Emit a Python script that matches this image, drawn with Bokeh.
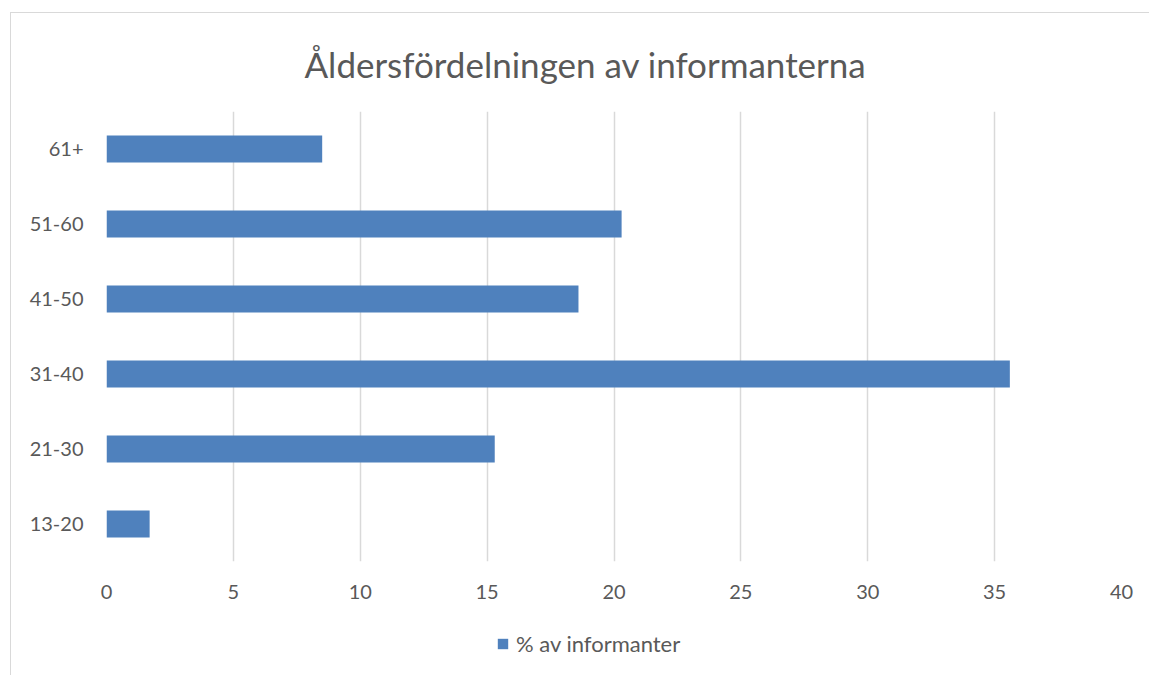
from bokeh.plotting import figure
from bokeh.layouts import column
from bokeh.models import FixedTicker, Range1d, Legend, LegendItem, ColumnDataSource
from bokeh.embed import file_html
from bokeh.resources import INLINE

categories = ["13-20", "21-30", "31-40", "41-50", "51-60", "61+"]
values = [1.7, 15.3, 35.6, 18.6, 20.3, 8.5]
x_ticks = [0, 5, 10, 15, 20, 25, 30, 35, 40]
series_name = "% av informanter"
title_text = "Åldersfördelningen av informanterna"

FONT = "Lato"
TXT = "#595959"
GRID = "#d9d9d9"
BAR = "#4f81bd"

src = ColumnDataSource(dict(cat=categories, val=values))

p = figure(
    frame_width=1015, frame_height=450,
    y_range=categories,
    x_range=Range1d(0, 40),
    output_backend="svg",
    toolbar_location=None,
    min_border_left=95, min_border_right=28,
    min_border_top=98, min_border_bottom=50,
)

r = p.hbar(y="cat", right="val", left=0, height=0.36, source=src,
           fill_color=BAR, line_color=None)

p.outline_line_color = None
p.background_fill_color = "white"
p.border_fill_color = "white"

p.title.text = title_text
p.title.text_font = FONT
p.title.text_font_size = "35px"
p.title.text_font_style = "normal"
p.title.text_color = TXT
p.title.align = "left"
p.title.offset = 198
p.title.standoff = 54

# x axis
p.xaxis.ticker = FixedTicker(ticks=x_ticks)
p.xaxis.axis_line_color = None
p.xaxis.major_tick_line_color = None
p.xaxis.minor_tick_line_color = None
p.xaxis.major_tick_out = 0
p.xaxis.major_tick_in = 0
p.xaxis.major_label_standoff = 23
p.xaxis.major_label_text_font = FONT
p.xaxis.major_label_text_font_size = "20px"
p.xaxis.major_label_text_color = TXT

# y axis
p.yaxis.axis_line_color = None
p.yaxis.major_tick_line_color = None
p.yaxis.major_tick_out = 0
p.yaxis.major_tick_in = 0
p.yaxis.major_label_standoff = 23
p.yaxis.major_label_text_font = FONT
p.yaxis.major_label_text_font_size = "20px"
p.yaxis.major_label_text_color = TXT

p.xgrid.grid_line_color = GRID
p.xgrid.grid_line_width = 1.5
p.ygrid.grid_line_color = None

# legend strip below the chart
p2 = figure(
    width=1139, height=64,
    y_range=categories,
    x_range=Range1d(0, 40),
    output_backend="svg",
    toolbar_location=None,
    min_border=0,
)
p2.axis.visible = False
p2.grid.visible = False
p2.outline_line_color = None
p2.background_fill_color = "white"
p2.border_fill_color = "white"
r2 = p2.hbar(y="cat", right="val", left=0, height=0.36, source=src,
             fill_color=BAR, line_color=None, visible=False)

legend = Legend(items=[LegendItem(label=series_name, renderers=[r2])],
                location=(390, 18), orientation="horizontal")
legend.glyph_width = 13
legend.glyph_height = 13
legend.label_standoff = 7
legend.padding = 0
legend.margin = 0
legend.spacing = 0
legend.border_line_color = None
legend.background_fill_alpha = 0
legend.label_text_font = FONT
legend.label_text_font_size = "22px"
legend.label_text_color = TXT
p2.add_layout(legend, "center")

layout = column(p, p2, spacing=0, margin=(12, 0, 0, 10))
layout.styles = {"border-left": "1px solid #d9d9d9", "border-top": "1px solid #d9d9d9"}

open("out.html", "w").write(file_html(layout, INLINE))
